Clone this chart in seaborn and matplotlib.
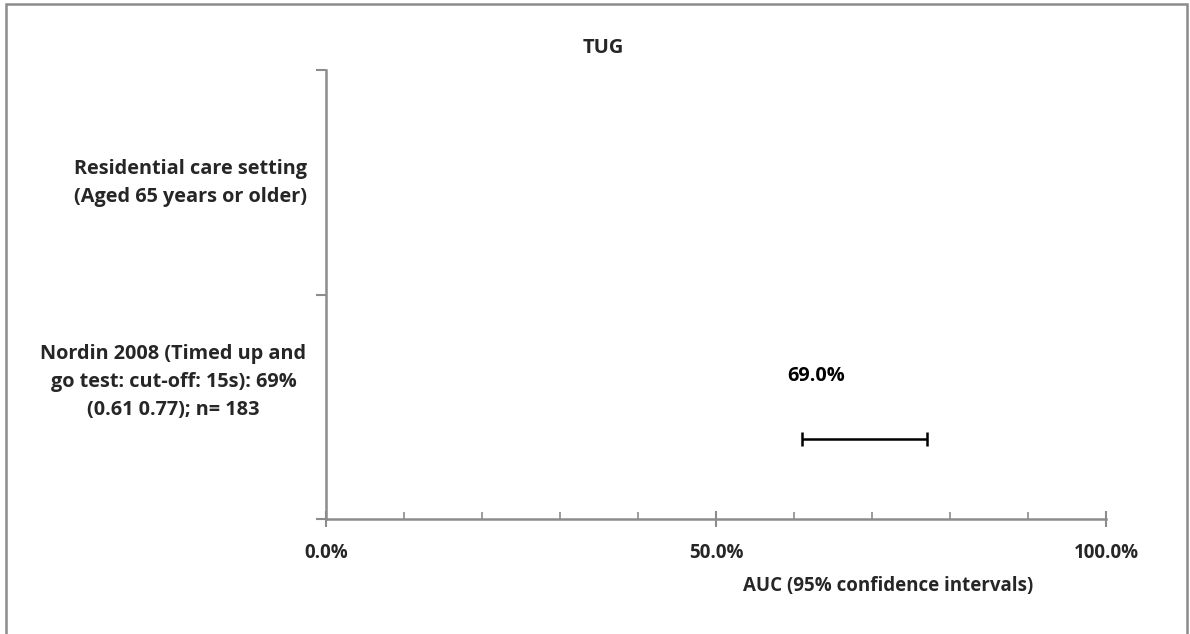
import matplotlib
matplotlib.use("Agg")
import matplotlib.pyplot as plt
import seaborn as sns
import numpy as np
from matplotlib.patches import Rectangle
from matplotlib.ticker import MultipleLocator, FuncFormatter

# ---- data ----
title = "TUG"
group_label = "Residential care setting\n(Aged 65 years or older)"
study_labels = ["Nordin 2008 (Timed up and\ngo test: cut-off: 15s): 69%\n(0.61 0.77); n= 183"]
auc = [0.69]
ci_low = [0.61]
ci_high = [0.77]
point_labels = ["69.0%"]
x_ticks = [0.0, 0.5, 1.0]
x_title = "AUC (95% confidence intervals)"

sns.set_theme(style="white")
plt.rcParams['font.family'] = ['Open Sans', 'DejaVu Sans']
FS = 14.3

W, H = 1190, 634
fig = plt.figure(figsize=(W / 100, H / 100), dpi=100)
L, R, T, B = 326, 1106, 70, 519
ax = fig.add_axes([L / W, 1 - B / H, (R - L) / W, (B - T) / H])

axis_col = "#8c8c8c"
y_point = 0.356

auc_a = np.array(auc)
err = np.vstack([auc_a - np.array(ci_low), np.array(ci_high) - auc_a])
ax.errorbar(auc_a, [y_point] * len(auc_a), xerr=err, fmt="none", ecolor="black",
            elinewidth=1.8, capsize=5, capthick=1.8)
for x, lab in zip(auc, point_labels):
    ax.text(x - 0.062, 0.637, lab, ha="center", va="center", fontsize=FS,
            fontweight="bold", color="black")

ax.set_xlim(0, 1)
ax.set_ylim(0, 2)

for s in ["top", "right"]:
    ax.spines[s].set_visible(False)
for s in ["left", "bottom"]:
    ax.spines[s].set_color(axis_col)
    ax.spines[s].set_linewidth(1.8)

ax.set_xticks(x_ticks)
ax.xaxis.set_minor_locator(MultipleLocator(0.1))
ax.xaxis.set_major_formatter(FuncFormatter(lambda v, p: f"{v*100:.1f}%"))
ax.tick_params(axis="x", which="major", direction="inout", length=11, width=1.5,
               color=axis_col, labelsize=13.5, pad=12, bottom=True)
ax.tick_params(axis="x", which="minor", direction="in", length=5, width=1.2,
               color=axis_col, bottom=True)
for t in ax.get_xticklabels():
    t.set_fontweight("bold")

ax.set_yticks([0, 1, 2])
ax.set_yticklabels([])
ax.tick_params(axis="y", which="major", direction="out", length=7, width=1.5,
               color=axis_col, left=True)

# category labels
ax.text(-0.025, 1.497, group_label, transform=ax.get_yaxis_transform(), ha="right",
        va="center", multialignment="center", fontsize=FS, fontweight="bold",
        linespacing=1.55)
ax.text(-0.025, 0.61, study_labels[0], transform=ax.get_yaxis_transform(), ha="right",
        va="center", multialignment="center", fontsize=FS, fontweight="bold",
        linespacing=1.55)

fig.text(603 / W, 1 - 48 / H, title, ha="center", va="center", fontsize=14.5,
         fontweight="bold")
fig.text(888 / W, 1 - 586 / H, x_title, ha="center", va="center", fontsize=13.5,
         fontweight="bold")

fig.patches.append(Rectangle((6 / W, -0.01), (1187 - 6) / W, 1 - 4 / H + 0.01,
                             transform=fig.transFigure, fill=False,
                             edgecolor=axis_col, linewidth=1.8))

fig.savefig("out.png", dpi=100)
